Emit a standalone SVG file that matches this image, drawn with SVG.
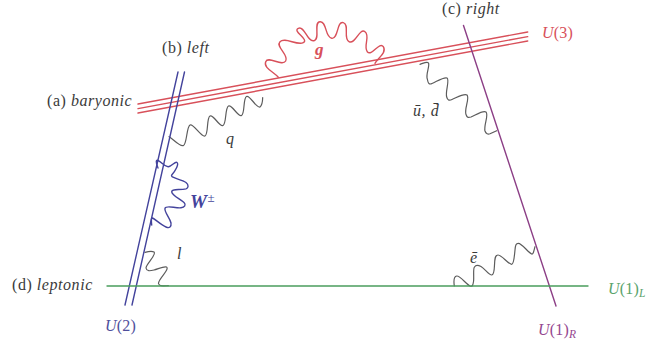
<svg xmlns="http://www.w3.org/2000/svg" width="649" height="343" viewBox="0 0 649 343">
<style>
.ln{fill:none;stroke-width:1.4;stroke-linecap:round;stroke-linejoin:round}
.red{stroke:#d8505a}.blue{stroke:#43439c}.pur{stroke:#8c3f86}.grn{stroke:#4a9d5c}.gry{stroke:#5c5c5c;stroke-width:1.2}
text{font-family:"Liberation Serif","Times New Roman",serif;font-size:16px;fill:#3a3a3a;letter-spacing:.55px}
.it{font-style:italic}
.u{letter-spacing:.2px}
tspan.sub{font-size:11.5px;font-style:italic}
</style>
<rect width="649" height="343" fill="#fff"/>
<g id="connectors">
<path id="wiggle-q" class="ln gry" d="M169,136.7 C172,138 180,147.3 183.5,145.5 S186.5,126.8 190,125 S201.4,137.8 205,136 S206.4,117.8 210,116 S219.4,127.3 223,125.5 S224.9,107.8 228.5,106 S237.9,117.3 241.5,115.5 S242.9,98.3 246.5,96.5 S256.4,108.8 260,107 Q262.5,105 262.7,97.5"/>
<path id="wiggle-g" class="ln red" d="M278.3,77.3 C274,72 263.2,68 265.7,61.7 S282.1,67 285.7,61 S275.2,46.7 280,41.7 S297.1,45.9 303.3,42.7 S292,31.2 298.3,28.3 S307.3,42.4 314,40.7 S313,22.3 320,21.7 S324.8,37.3 331.7,38.3 S336.6,20.7 343.3,22.7 S342.8,38.3 349,41.7 S359.4,27.5 365,31.7 S363,46.2 367.3,51.7 S379.5,40.8 383.3,46.7 S378,58 375,63.3"/>
<path id="wiggle-w" class="ln blue" d="M158,168 C155.5,162 156,159.5 158,160.5 C162,162 164,167 168.3,166.7 C172,166.5 175,161 177,162.5 C179,164 176,170 171.7,175 C170,178 181,179 186,182.5 C189,185 188.5,188 186,188.8 C180,190.5 172,188 171.7,191.7 C171.5,195 180,199 184,202.5 C186.5,205 184.5,207.5 181,207.8 C175,208.3 166,205 165,208.3 C164,212 170,218 171,223 C171.5,227 169.5,228.5 166,227 C161,225 155,219 152.5,218 C151,217.5 151.3,222 151.7,225"/>
<path id="wiggle-l" class="ln gry" d="M145,252.3 C148,251.5 152,250.8 154,252 C157,254.5 146,264 146,268 C146.5,271.5 150,271 154,270 C158,269 164,266 166.5,267 C170,269.5 158,279 158.5,283.5 C159,286.5 163,286 168.3,285.7"/>
<path id="wiggle-ud" class="ln gry" d="M420,64.3 C423,63.5 427,61 428.5,63 C430,66 425.5,74.5 427.3,79 C428,83 429,85 432,83.5 C436,82 444,76.5 447,78 C450,80 445,92 446.7,97 C447.5,100 449,101 452,99.5 C456,98 464,93 467,95 C470,98 464,109 466,114.5 C467,117.5 468,118 471,117 C475,115.5 483,110 486,112 C489,114.5 483.5,126 485,131 C486,134 488,134.5 490,133.8 L496.7,130.7"/>
<path id="wiggle-e" class="ln gry" d="M454.3,286 C453.6,281 453.5,276.5 456.7,276 C460,275.5 466,284 470,286 C472.5,287 473,285 473.6,281 C474,276 473,268 474.5,267 C476,264.5 478,265 481,266.5 C485,269 489,275 491.7,275 C494,275 494.3,270 494.5,265 C494.7,259 495,255 498,255 C502,255 508,264.3 511.7,264.3 C514,264.3 514.3,256 515,250 C515.5,245 516,243.3 518.3,243.3 C522,243.3 528,252.5 531.7,254 C533.5,254.5 534,250 535,246.7"/>
</g>
<g id="baryonic">
<path class="ln red" d="M138,104 L527.7,32 M138,108.6 L527.7,36.6 M138,113 L527.7,41"/>
<text class="it" x="47" y="106"><tspan font-style="normal">(a)</tspan> baryonic</text>
</g>
<g id="left">
<path class="ln blue" d="M178,72 L125,305 M184.5,72 L132,305"/>
<text class="it" x="162" y="53"><tspan font-style="normal">(b)</tspan> left</text>
</g>
<g id="right">
<path class="ln pur" d="M463.5,25.5 L556,306"/>
<text class="it" x="442" y="14"><tspan font-style="normal">(c)</tspan> right</text>
</g>
<g id="leptonic">
<path class="ln grn" d="M107,286 L588,286"/>
<text class="it" x="12" y="290"><tspan font-style="normal">(d)</tspan> leptonic</text>
</g>
<g id="labels">
<text class="it u" x="542" y="38" style="fill:#d8505a">U<tspan font-style="normal">(3)</tspan></text>
<text class="it u" x="105" y="331" style="fill:#4f4f9c">U<tspan font-style="normal">(2)</tspan></text>
<text class="it u" x="608" y="294" style="fill:#5aa36b">U<tspan font-style="normal">(1)</tspan><tspan class="sub" dy="3">L</tspan></text>
<text class="it u" x="538" y="335" style="fill:#95478f">U<tspan font-style="normal">(1)</tspan><tspan class="sub" dy="3">R</tspan></text>
<text class="it" x="226" y="144">q</text>
<text class="it" x="177" y="259">l</text>
<text class="it" x="315" y="55" style="font-weight:bold;fill:#d8505a;font-size:17px">g</text>
<text class="it" x="190" y="208" style="font-weight:bold;fill:#43439c;font-size:19px">W<tspan style="font-weight:normal;font-style:normal;font-size:13px" dy="-6">±</tspan></text>
<text class="it" x="413" y="116">ū, d̄</text>
<text class="it" x="470" y="263">ē</text>
</g>
</svg>
